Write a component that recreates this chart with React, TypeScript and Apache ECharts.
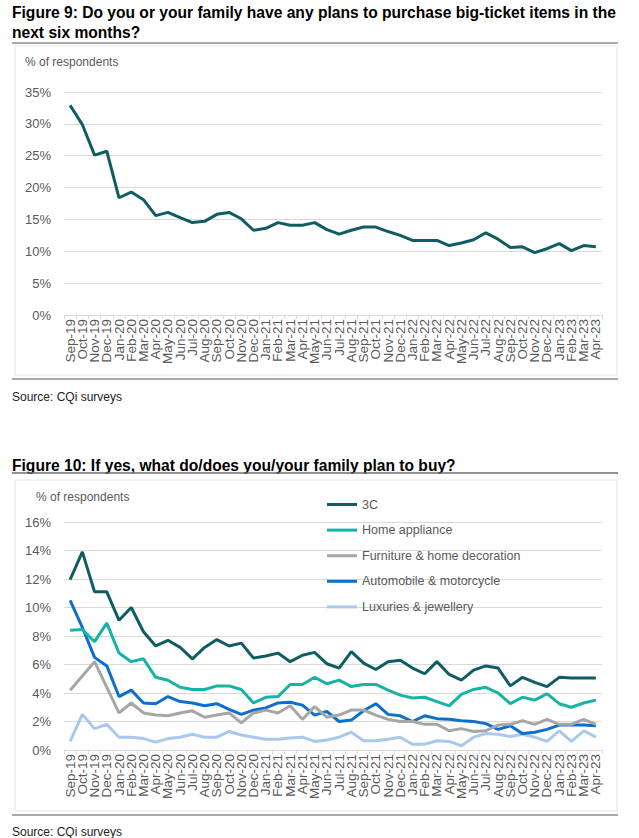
import React, { useEffect, useRef } from 'react';
import * as echarts from 'echarts';

const months = [
  'Sep-19', 'Oct-19', 'Nov-19', 'Dec-19',
  'Jan-20', 'Feb-20', 'Mar-20', 'Apr-20', 'May-20', 'Jun-20', 'Jul-20', 'Aug-20', 'Sep-20', 'Oct-20', 'Nov-20', 'Dec-20',
  'Jan-21', 'Feb-21', 'Mar-21', 'Apr-21', 'May-21', 'Jun-21', 'Jul-21', 'Aug-21', 'Sep-21', 'Oct-21', 'Nov-21', 'Dec-21',
  'Jan-22', 'Feb-22', 'Mar-22', 'Apr-22', 'May-22', 'Jun-22', 'Jul-22', 'Aug-22', 'Sep-22', 'Oct-22', 'Nov-22', 'Dec-22',
  'Jan-23', 'Feb-23', 'Mar-23', 'Apr-23',
];

const bigTicketPlans = [
  32.9, 29.9, 25.1, 25.7, 18.4, 19.3, 18.1, 15.6, 16.1, 15.3, 14.5, 14.7, 15.8, 16.1, 15.1, 13.3,
  13.6, 14.5, 14.1, 14.1, 14.5, 13.4, 12.7, 13.3, 13.8, 13.8, 13.1, 12.5, 11.7, 11.7, 11.7, 10.9,
  11.3, 11.8, 12.9, 11.9, 10.6, 10.7, 9.8, 10.4, 11.2, 10.1, 10.9, 10.7,
];

const seriesNames = ['3C', 'Home appliance', 'Furniture & home decoration', 'Automobile & motorcycle', 'Luxuries & jewellery'];

const threeC = [
  11.95, 13.9, 11.1, 11.1, 9.1, 10.0, 8.3, 7.3, 7.7, 7.2, 6.4, 7.2, 7.75, 7.3, 7.5, 6.45,
  6.6, 6.8, 6.2, 6.65, 6.85, 6.05, 5.75, 6.9, 6.1, 5.65, 6.2, 6.3, 5.75, 5.35, 6.2, 5.3,
  4.9, 5.6, 5.9, 5.75, 4.5, 5.1, 4.75, 4.45, 5.1, 5.05, 5.05, 5.05,
];
const homeAppliance = [
  8.4, 8.45, 7.6, 8.9, 6.8, 6.2, 6.4, 5.1, 4.9, 4.4, 4.25, 4.25, 4.5, 4.5, 4.25, 3.3,
  3.7, 3.75, 4.6, 4.6, 5.1, 4.65, 4.9, 4.45, 4.6, 4.6, 4.2, 3.85, 3.65, 3.7, 3.4, 3.1,
  3.9, 4.25, 4.4, 4.0, 3.25, 3.7, 3.5, 3.95, 3.25, 3.0, 3.3, 3.5,
];
const furniture = [
  4.2, 5.2, 6.2, 4.4, 2.6, 3.3, 2.6, 2.45, 2.4, 2.6, 2.75, 2.3, 2.45, 2.6, 1.9, 2.6,
  2.8, 2.6, 3.1, 2.15, 3.05, 2.3, 2.45, 2.8, 2.8, 2.45, 2.15, 2.0, 2.0, 1.8, 1.8, 1.35,
  1.5, 1.3, 1.35, 1.75, 1.8, 2.05, 1.8, 2.15, 1.8, 1.8, 2.15, 1.8,
];
const automobile = [
  10.5, 8.6, 6.5, 5.9, 3.75, 4.2, 3.3, 3.25, 3.75, 3.4, 3.3, 3.1, 3.25, 2.85, 2.5, 2.8,
  2.95, 3.3, 3.35, 3.15, 2.45, 2.7, 2.0, 2.1, 2.75, 3.25, 2.5, 2.4, 2.0, 2.4, 2.2, 2.15,
  2.05, 2.0, 1.85, 1.45, 1.7, 1.15, 1.25, 1.45, 1.75, 1.75, 1.75, 1.7,
];
const luxuries = [
  0.6, 2.5, 1.5, 1.8, 0.9, 0.9, 0.8, 0.55, 0.8, 0.9, 1.1, 0.9, 0.9, 1.3, 1.05, 0.9,
  0.75, 0.75, 0.85, 0.9, 0.6, 0.7, 0.9, 1.25, 0.65, 0.65, 0.75, 0.9, 0.4, 0.4, 0.65, 0.6,
  0.3, 0.9, 1.15, 1.1, 0.95, 1.1, 0.9, 0.6, 1.35, 0.6, 1.35, 0.9,
];

const seriesData = [threeC, homeAppliance, furniture, automobile, luxuries];
const seriesColors = ['#0f5d62', '#19b3a6', '#a6a6a6', '#0c6fd0', '#a9c8ec'];

const FONT = '"Liberation Sans", Arial, Helvetica, sans-serif';
const LABEL = '#595959';
const GRID = '#d9d9d9';

export default function App() {
  const ref = useRef<HTMLDivElement>(null);

  useEffect(() => {
    if (!ref.current) return;
    const chart = echarts.init(ref.current, null, { renderer: 'svg' });

    const xAxisCommon = (gridIndex: number) => ({
      type: 'category',
      gridIndex,
      data: months,
      boundaryGap: true,
      axisLine: { show: true, lineStyle: { color: GRID, width: 1 } },
      axisTick: { show: true, length: 4, lineStyle: { color: GRID } },
      axisLabel: {
        interval: 0,
        rotate: 90,
        margin: 4,
        color: LABEL,
        fontSize: 13.5,
        fontFamily: FONT,
      },
      splitLine: { show: false },
    });

    const yAxisCommon = (gridIndex: number, max: number, interval: number) => ({
      type: 'value',
      gridIndex,
      min: 0,
      max,
      interval,
      axisLine: { show: false },
      axisTick: { show: false },
      axisLabel: {
        formatter: '{value}%',
        color: LABEL,
        fontSize: 13,
        fontFamily: FONT,
        margin: 13,
      },
      splitLine: { show: true, lineStyle: { color: GRID, width: 1 } },
    });

    const option: any = {
      animation: false,
      textStyle: { fontFamily: FONT },
      grid: [
        { left: 64, right: 37, top: 92, height: 223, containLabel: false },
        { left: 64, right: 37, top: 522, height: 228, containLabel: false },
      ],
      xAxis: [xAxisCommon(0), xAxisCommon(1)],
      yAxis: [yAxisCommon(0, 35, 5), yAxisCommon(1, 16, 2)],
      legend: {
        orient: 'vertical',
        left: 327,
        top: 497,
        padding: 0,
        icon: 'rect',
        itemWidth: 30,
        itemHeight: 3,
        itemGap: 10.6,
        data: seriesNames,
        textStyle: { color: LABEL, fontSize: 12.5, fontFamily: FONT, lineHeight: 15 },
      },
      series: [
        {
          type: 'line',
          name: 'Big-ticket plans',
          xAxisIndex: 0,
          yAxisIndex: 0,
          data: bigTicketPlans,
          symbol: 'none',
          lineStyle: { color: '#0f5d62', width: 3 },
          itemStyle: { color: '#0f5d62' },
        },
        ...seriesNames.map((name, i) => ({
          type: 'line',
          name,
          xAxisIndex: 1,
          yAxisIndex: 1,
          data: seriesData[i],
          symbol: 'none',
          z: 10 - i,
          lineStyle: { color: seriesColors[i], width: 3 },
          itemStyle: { color: seriesColors[i] },
        })),
      ],
      graphic: [
        {
          type: 'text', left: 12, top: 4,
          style: { text: 'Figure 9: Do you or your family have any plans to purchase big-ticket items in the', font: `bold 15.6px ${FONT}`, fill: '#000' },
        },
        {
          type: 'text', left: 12, top: 24,
          style: { text: 'next six months?', font: `bold 15.6px ${FONT}`, fill: '#000' },
        },
        { type: 'line', shape: { x1: 12, y1: 43, x2: 618, y2: 43 }, style: { stroke: '#8c8c8c', lineWidth: 1.5 } },
        { type: 'rect', shape: { x: 15, y: 46, width: 602, height: 329 }, style: { fill: 'none', stroke: '#e6e6e6', lineWidth: 1 }, z: -1 },
        {
          type: 'text', left: 25, top: 56,
          style: { text: '% of respondents', font: `12px ${FONT}`, fill: LABEL },
        },
        { type: 'line', shape: { x1: 12, y1: 379, x2: 618, y2: 379 }, style: { stroke: '#8c8c8c', lineWidth: 1.5 } },
        {
          type: 'text', left: 12, top: 391,
          style: { text: 'Source: CQi surveys', font: `12px ${FONT}`, fill: '#222' },
        },
        {
          type: 'text', left: 12, top: 457,
          style: { text: 'Figure 10: If yes, what do/does you/your family plan to buy?', font: `bold 15.6px ${FONT}`, fill: '#000' },
        },
        { type: 'line', shape: { x1: 12, y1: 473, x2: 618, y2: 473 }, style: { stroke: '#6e6e6e', lineWidth: 1.5 } },
        { type: 'rect', shape: { x: 15, y: 480, width: 602, height: 331 }, style: { fill: 'none', stroke: '#e6e6e6', lineWidth: 1 }, z: -1 },
        {
          type: 'text', left: 36, top: 491,
          style: { text: '% of respondents', font: `12px ${FONT}`, fill: LABEL },
        },
        { type: 'line', shape: { x1: 12, y1: 815, x2: 618, y2: 815 }, style: { stroke: '#8c8c8c', lineWidth: 1.5 } },
        {
          type: 'text', left: 12, top: 826,
          style: { text: 'Source: CQi surveys', font: `12px ${FONT}`, fill: '#222' },
        },
      ],
    };

    chart.setOption(option);
    return () => chart.dispose();
  }, []);

  return (
    <div
      ref={ref}
      style={{ position: 'absolute', left: 0, top: 0, width: 639, height: 838, background: '#fff' }}
    />
  );
}
